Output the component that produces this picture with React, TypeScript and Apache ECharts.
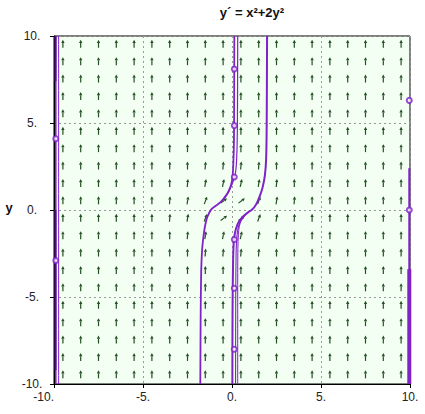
import React, { useEffect, useRef } from 'react';
import * as echarts from 'echarts';

const TITLE = 'y´ = x²+2y²';
const Y_NAME = 'y';
const AXIS_MIN = -10;
const AXIS_MAX = 10;
const TICK_STEP = 5;

// centres of the slope-field arrows
const ARROW_X = [-9.5, -8.5, -7.5, -6.5, -5.5, -4.5, -3.5, -2.5, -1.5, -0.5, 0.5, 1.5, 2.5, 3.5, 4.5, 5.5, 6.5, 7.5, 8.5, 9.5];
const ARROW_Y = [-9.5, -8.5, -7.5, -6.5, -5.5, -4.5, -3.5, -2.5, -1.5, -0.5, 0.5, 1.5, 2.5, 3.5, 4.5, 5.5, 6.5, 7.5, 8.5, 9.5];
// arrows that visibly lean away from vertical: [|x|, |y|, angle in degrees] (same in all four quadrants)
const TILTED = [
  [0.5, 0.5, 37],
  [0.5, 1.5, 78],
  [1.5, 0.5, 70],
  [1.5, 1.5, 81],
  [2.5, 0.5, 81],
  [0.5, 2.5, 85],
  [2.5, 1.5, 85],
  [1.5, 2.5, 86],
  [3.5, 0.5, 86],
];
const VERTICAL = 90;

// solution curves
const EDGE_LEFT_A = [[-9.9, -10], [-9.9, 10]];
const EDGE_LEFT_B = [[-9.74, -10], [-9.74, 10]];
const EDGE_LEFT_DARK = [[-9.92, -9.2], [-9.92, 0]];
const EDGE_LEFT_DARK2 = [[-9.92, 7.4], [-9.92, 10]];
const EDGE_RIGHT = [[9.96, -10], [9.96, 2.4]];
const EDGE_RIGHT_THICK = [[9.96, -10], [9.96, -3.4]];
const CURVE_A = [
  [-1.78, -10], [-1.76, -6], [-1.73, -3.5], [-1.68, -2.3], [-1.6, -1.5], [-1.52, -0.95],
  [-1.42, -0.5], [-1.3, -0.2], [-1.15, 0.05], [-0.95, 0.22], [-0.7, 0.4], [-0.5, 0.62],
  [-0.32, 0.86], [-0.18, 1.12], [-0.05, 1.45], [0.03, 1.9], [0.08, 2.8], [0.11, 4],
  [0.12, 6], [0.13, 10],
];
const CURVE_B = [
  [-0.6, 0.5], [-0.42, 0.68], [-0.25, 0.92], [-0.1, 1.22], [0.05, 1.6], [0.19, 2.1],
  [0.26, 2.9], [0.3, 4.5], [0.32, 10],
];
const CURVE_C = [
  [1.97, 10], [1.95, 5], [1.92, 3], [1.85, 2], [1.72, 1.3], [1.58, 0.85], [1.42, 0.45],
  [1.28, 0.2], [1.1, 0.0], [0.92, -0.12], [0.65, -0.35], [0.45, -0.58], [0.3, -0.85],
  [0.18, -1.25], [0.1, -1.8], [0.06, -3], [0.03, -6], [0.02, -10],
];
const CURVE_D = [
  [0.75, -0.3], [0.57, -0.5], [0.43, -0.75], [0.33, -1.1], [0.27, -1.6], [0.23, -2.5],
  [0.21, -5], [0.2, -10],
];
const CURVE_E = [
  [0.66, -0.42], [0.5, -0.65], [0.41, -0.95], [0.36, -1.4], [0.33, -2.2], [0.32, -5],
  [0.32, -10],
];
const START_POINTS = [
  [-9.9, 4.1], [-9.9, -2.9], [0.13, 8.1], [0.13, 4.85], [0.13, 1.9], [0.13, -1.7],
  [0.13, -4.5], [0.13, -8], [9.96, 6.3], [9.96, 0],
];

const PURPLE = '#8022c8';
const DARK_PURPLE = '#4a1080';
const ARROW_COLOR = '#234f23';
const FONT = 'Liberation Sans, Arial, sans-serif';

function arrowAngle(x: number, y: number): number {
  for (const t of TILTED) {
    if (Math.abs(Math.abs(x) - t[0]) < 1e-6 && Math.abs(Math.abs(y) - t[1]) < 1e-6) return t[2];
  }
  return VERTICAL;
}

export default function App() {
  const ref = useRef<HTMLDivElement>(null);
  useEffect(() => {
    const chart = echarts.init(ref.current!, null, { renderer: 'svg' });
    const arrowData: number[][] = [];
    for (const x of ARROW_X) for (const y of ARROW_Y) arrowData.push([x, y, arrowAngle(x, y)]);

    const lineSeries = (data: number[][], width: number, color = PURPLE) => ({
      type: 'line',
      data,
      showSymbol: false,
      symbol: 'none',
      smooth: 0.3,
      clip: true,
      lineStyle: { color, width },
      z: 3,
      silent: true,
    });

    const option: any = {
      animation: false,
      backgroundColor: '#ffffff',
      grid: {
        left: 54, right: 15, top: 36, bottom: 30,
        show: true, backgroundColor: '#f4fff4', borderColor: '#000', borderWidth: 1,
      },
      graphic: [
        {
          type: 'text', x: 252, y: 12,
          style: { text: TITLE, font: `bold 13px ${FONT}`, fill: '#111', textAlign: 'center', textVerticalAlign: 'middle' },
        },
        {
          type: 'text', x: 9, y: 207,
          style: { text: Y_NAME, font: `bold 13px ${FONT}`, fill: '#111', textAlign: 'center', textVerticalAlign: 'middle' },
        },
      ],
      xAxis: {
        type: 'value', min: AXIS_MIN, max: AXIS_MAX, interval: TICK_STEP,
        axisLine: { show: true, onZero: false, lineStyle: { color: '#000', width: 1 } },
        axisTick: { show: true, inside: false, length: 4, lineStyle: { color: '#000' } },
        axisLabel: {
          formatter: (v: number) => `${v}.`, color: '#222', fontSize: 12, fontFamily: FONT, margin: 7,
          alignMinLabel: 'right',
        },
        splitLine: { show: true, lineStyle: { color: '#999999', type: [2, 3], width: 1 } },
      },
      yAxis: {
        type: 'value', min: AXIS_MIN, max: AXIS_MAX, interval: TICK_STEP,
        axisLine: { show: true, onZero: false, lineStyle: { color: '#000', width: 1 } },
        axisTick: { show: true, inside: false, length: 4, lineStyle: { color: '#000' } },
        axisLabel: {
          formatter: (v: number) => `${v}.`, color: '#222', fontSize: 12, fontFamily: FONT,
          margin: 22, align: 'center',
        },
        splitLine: { show: true, lineStyle: { color: '#999999', type: [2, 3], width: 1 } },
      },
      series: [
        {
          type: 'custom',
          data: arrowData,
          encode: { x: 0, y: 1 },
          clip: true,
          silent: true,
          z: 2,
          renderItem: (params: any, api: any) => {
            const x = api.value(0), y = api.value(1);
            const ang = (api.value(2) * Math.PI) / 180;
            const c = api.coord([x, y]);
            const L = 8;
            const ux = Math.cos(ang), uy = -Math.sin(ang);
            const tail = [c[0] - ux * L * 0.38, c[1] - uy * L * 0.38];
            const tip = [c[0] + ux * L * 0.62, c[1] + uy * L * 0.62];
            const hl = 3.2, hw = 1.7;
            const base = [tip[0] - ux * hl, tip[1] - uy * hl];
            const px = -uy, py = ux;
            return {
              type: 'group',
              children: [
                {
                  type: 'line',
                  shape: { x1: tail[0], y1: tail[1], x2: base[0], y2: base[1] },
                  style: { stroke: ARROW_COLOR, lineWidth: 1.2 },
                },
                {
                  type: 'polygon',
                  shape: { points: [tip, [base[0] + px * hw, base[1] + py * hw], [base[0] - px * hw, base[1] - py * hw]] },
                  style: { fill: ARROW_COLOR },
                },
              ],
            };
          },
        },
        lineSeries(EDGE_LEFT_A, 1.6),
        lineSeries(EDGE_LEFT_B, 1),
        lineSeries(EDGE_LEFT_DARK, 2, DARK_PURPLE),
        lineSeries(EDGE_LEFT_DARK2, 2, DARK_PURPLE),
        lineSeries(EDGE_RIGHT, 2),
        lineSeries(EDGE_RIGHT_THICK, 4),
        lineSeries(CURVE_A, 1.8),
        lineSeries(CURVE_B, 1.2),
        lineSeries(CURVE_C, 2),
        lineSeries(CURVE_D, 1.1),
        lineSeries(CURVE_E, 1),
        {
          type: 'scatter',
          data: START_POINTS,
          symbol: 'emptyCircle',
          symbolSize: 5,
          clip: true,
          silent: true,
          z: 4,
          itemStyle: { color: PURPLE, borderColor: PURPLE, borderWidth: 1 },
        },
      ],
    };
    chart.setOption(option);
    return () => chart.dispose();
  }, []);
  return (
    <div
      ref={ref}
      style={{ position: 'absolute', left: 0, top: 0, width: 425, height: 414, background: '#fff' }}
    />
  );
}
